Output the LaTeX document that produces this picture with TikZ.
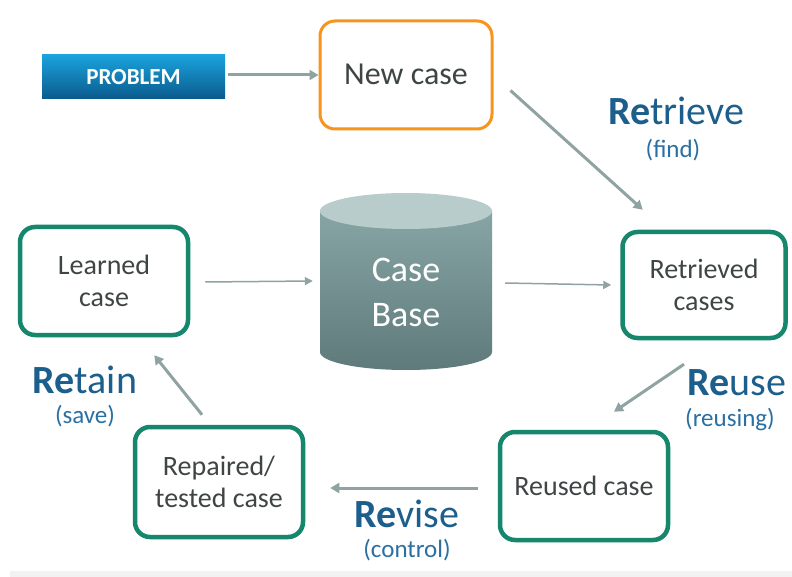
\documentclass[tikz,border=0pt]{standalone}
\usepackage{fontspec}
\setmainfont{Carlito}
\usetikzlibrary{arrows.meta,shapes.geometric,shadows}
\definecolor{arr}{HTML}{8FA3A3}
\definecolor{grn}{HTML}{16876C}
\definecolor{org}{HTML}{F7941D}
\definecolor{txt}{HTML}{3F4545}
\definecolor{lbl}{HTML}{1C5E8C}
\definecolor{lbl2}{HTML}{2A70A3}
\definecolor{cyltop}{HTML}{B9CCCC}
\definecolor{cylhi}{HTML}{88A5A5}
\definecolor{cyllo}{HTML}{5E7A7A}
\definecolor{bluetop}{HTML}{1AA3DD}
\definecolor{bluebot}{HTML}{0A5A8C}
\tikzset{
  x=1pt, y=-1pt,
  casebox/.style={draw=grn, line width=4.5pt, rounded corners=15pt, fill=white, align=center,
    text=txt, font=\fontsize{28}{32}\selectfont, drop shadow={shadow xshift=1pt, shadow yshift=-2pt, opacity=0.25}},
  arrowline/.style={draw=arr, line width=3pt, -{Triangle[length=9pt,width=10pt]}},
  thinarrow/.style={draw=arr, line width=1.5pt, -{Triangle[length=8pt,width=8pt]}},
  bigl/.style={text=lbl, font=\fontsize{40}{44}\selectfont},
  smalll/.style={text=lbl2, font=\fontsize{25}{28}\selectfont},
}
\begin{document}
\begin{tikzpicture}
\useasboundingbox (0,0) rectangle (792,577);
\fill[white] (0,0) rectangle (792,577);
\fill[black!5] (10,571) rectangle (792,577);

% PROBLEM box
\shade[top color=bluetop, bottom color=bluebot] (42,55) rectangle (225,99);
\node (prob) [minimum width=183pt, minimum height=44pt, text=white,
  font=\fontsize{23}{26}\selectfont\bfseries] at (133.5,77) {PROBLEM};

% New case
\node (new) [draw=org, line width=3pt, rounded corners=15pt, fill=white, minimum width=172pt,
  minimum height=108pt] at (406,75) {};
\node (newt) [text=txt, font=\fontsize{32}{36}\selectfont] at (406,74) {New case};

% Case Base cylinder
\shade[top color=cylhi, bottom color=cyllo] (320,211) -- (320,352) arc[start angle=180,end angle=360,x radius=86pt,y radius=18pt] -- (492,211) -- cycle;
\fill[cyltop] (406,211) ellipse[x radius=86pt, y radius=18pt];
\node (cb) [minimum width=172pt, minimum height=170pt, align=center, text=white,
  font=\fontsize{36}{45}\selectfont] at (406,292) {Case\\Base};

% Case boxes
\node (ret) [casebox, minimum width=163pt, minimum height=106pt] at (704,285) {Retrieved\\cases};
\node (lrn) [casebox, minimum width=168pt, minimum height=108pt] at (104,281) {Learned\\case};
\node (rep) [casebox, minimum width=168pt, minimum height=110pt] at (219,482) {Repaired/\\tested case};
\node (reu) [casebox, minimum width=168pt, minimum height=108pt] at (584,486) {Reused case};

% Labels
\node (l1) [bigl] at (676,111) {\textbf{Re}trieve};
\node (l1b) [smalll] at (673,150) {(find)};
\node (l2) [bigl] at (737,383) {\textbf{Re}use};
\node (l2b) [smalll] at (730,420) {(reusing)};
\node (l3) [bigl] at (407,514) {\textbf{Re}vise};
\node (l3b) [smalll] at (407,550) {(control)};
\node (l4) [bigl] at (85,380) {\textbf{Re}tain};
\node (l4b) [smalll] at (85,416) {(save)};

% Connectors
\draw[arrowline] ([xshift=3pt]prob.east |- new.west) -- (new.west);
\draw[arrowline] ([shift={(17,-40)}]new.south east) -- ([shift={(-145,-20)}]ret.north east);
\draw[thinarrow] ([shift={(15,1)}]lrn.east) -- ([xshift=-7pt]cb.west |- lrn.east);
\draw[thinarrow] ([shift={(13,-9)}]cb.east) -- ([xshift=-9pt]ret.west);
\draw[arrowline] ([shift={(-20,24)}]ret.south) -- ([shift={(30,-18)}]reu.north);
\draw[arrowline] ([shift={(-20,2)}]reu.west) -- ([shift={(25,2)}]rep.east |- reu.west);
\draw[arrowline] ([shift={(-17,-10)}]rep.north) -- ([shift={(-36,18)}]lrn.south east);
\end{tikzpicture}
\end{document}
